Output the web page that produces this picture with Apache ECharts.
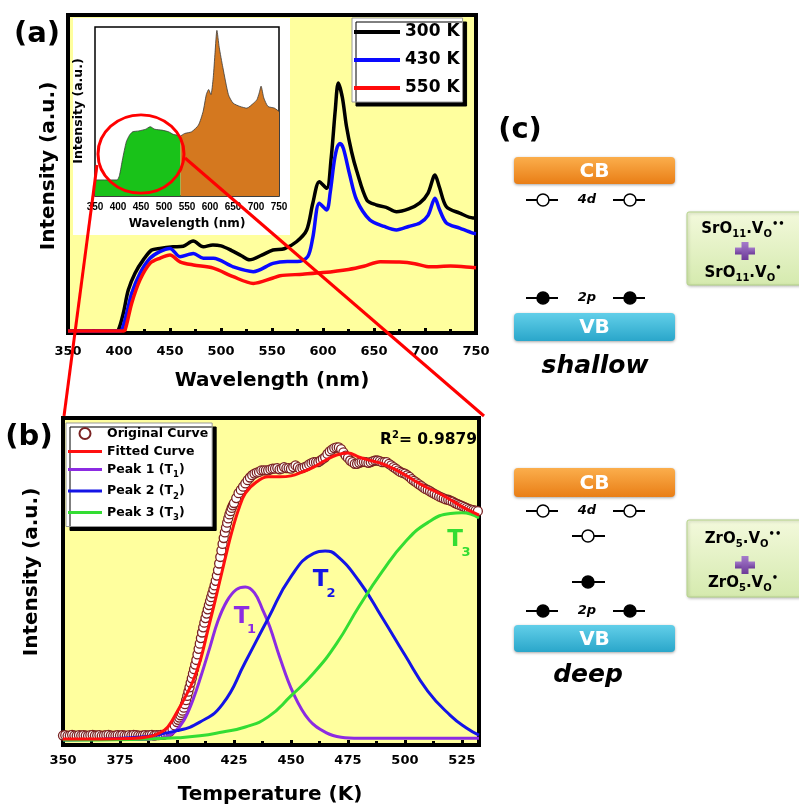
<!DOCTYPE html>
<html><head><meta charset="utf-8">
<script src="https://cdn.jsdelivr.net/npm/echarts@6/dist/echarts.min.js"></script>
<style>html,body{margin:0;padding:0;background:#fff}#c{width:799px;height:807px}</style>
</head><body><div id="c"></div>
<script>
// ---------- Panel (a): PL spectra ----------
const wl300 = [350,375,396,399.3,404.2,409.1,415.7,423.8,432,440,453,463,472.7,482.6,492,500,510,520,528,540,551,562,574,584,590,596.4,603.6,608,612,615,619,623,628,633,643,652,662,672,684,695,703,709.8,714,721,734,747,750];
const int300 = [0.6,0.6,0.6,0.9,6.2,13.5,18.8,23,26.1,26.6,27.1,27.3,28.9,27.1,27.7,27.4,26,24.3,23,24.5,26.1,26.5,28.7,32.4,40.8,47.6,45.5,55,70,78.6,74,65,57,51,41.8,40.3,39.5,38.1,39,40.9,44,49.7,46,39.7,37.7,36.2,36.2];
const wl430 = [350,399,402.6,407.5,412.4,420.6,430.4,440,450,459.8,472.9,482.7,492.5,512,531.7,551,565,575,585,590,596.4,603.6,607,611,614,616.7,620,626,633,646,660,672,684,695,703,709.8,714,721,734,747,750];
const int430 = [0.6,0.6,0.9,6.2,12.5,18.8,23.5,25.6,26.6,24,25,23.5,23.5,20.8,19.3,21.9,22.5,22.5,24,30,40.8,38.7,44,54,58.5,59.6,58,50,41.8,35.5,33.5,32.4,33.5,34.6,37,42.4,39,34.6,33,31.4,31.2];
const wl550 = [350,403,405.9,412.4,420.6,430.4,440,450,459.8,472.9,492.5,512,531.7,551,557.8,580,600,625,640,656,675,690,705,725,747,750];
const int550 = [0.6,0.6,0.9,9.3,16.7,21.9,23.5,24.5,22.4,21.4,20.4,17.7,15.6,17.3,18.0,18.5,19,20,21,22.4,22.3,21.8,20.8,21.1,20.6,20.5];
// inset
const wlInsetGreen = [350,398,403,410,418,425,432,445,460,470,480,495,510,520,530,536];
const insetGreen = [9.5,9.5,12,22,32,36,38,38.5,39.5,41,39.5,39,38,36.5,36,35.5];
const wlInsetOrange = [536,545,560,575,585,592,597,602,607,611,615,620,628,640,650,665,680,695,702,707,711,717,726,740,750];
const insetOrange = [35.5,37,38,42,50,60,63,60,70,85,98,88,76,60,55,53,52,55,57,61,65,58,53,52,50];
const wlTicks = [350,400,450,500,550,600,650,700,750];

// ---------- Panel (b): TL fit ----------
const origK = [350,351,352,353,354,355,356,357,358,359,
360,361,362,363,364,365,366,367,368,369,
370,371,372,373,374,375,376,377,378,379,
380,381,382,383,384,385,386,387,388,389,
390,391,392,393,394,395,396,397,398,399,
400,400.5,401,401.5,402,402.5,403,403.5,404,404.5,
405,405.5,406,406.5,407,407.5,408,408.5,409,409.5,
410,410.5,411,411.5,412,412.5,413,413.5,414,414.5,
415,415.5,416,416.5,417,417.5,418,418.5,419,419.5,
420,420.5,421,421.5,422,422.5,423,423.5,424,424.5,
425,426,427,428,429,430,431,432,433,434,
435,436,437,438,439,440,441,442,443,444,
445,446,447,448,449,450,451,452,453,454,
455,456,457,458,459,460,461,462,463,464,
465,466,467,468,469,470,471,472,473,474,
475,476,477,478,479,480,481,482,483,484,
485,486,487,488,489,490,491,492,493,494,
495,496,497,498,499,500,501,502,503,504,
505,506,507,508,509,510,511,512,513,514,
515,516,517,518,519,520,521,522,523,524,
525,526,527,528,529,530,531,532];
const origV = [2.9,3.0,2.8,2.9,3.1,2.9,2.8,3.0,2.9,3.0,
2.9,2.8,3.0,3.1,2.9,2.9,3.0,2.8,2.9,3.0,
3.1,2.9,2.8,2.9,3.0,2.9,3.0,2.9,2.8,3.0,
2.9,3.1,3.0,2.9,2.8,2.9,3.0,2.9,3.0,3.1,
2.9,3.0,3.0,3.1,3.1,3.3,3.7,4.2,5.0,6.0,
7.0,7.7,8.4,9.1,9.8,10.5,11.4,12.5,13.7,15,
16.3,17.6,19,20.4,21.8,23.2,24.6,26,27.7,29.4,
31,32.7,34.4,36,37.4,38.8,40.2,41.5,42.8,44,
45.2,46.4,47.6,48.8,50.2,51.8,53.5,55.5,57.5,59.5,
61.5,63.3,65,66.5,68,69.3,70.5,71.5,72.5,73.3,
74,75.5,77,78,79,80,81,81.8,82.5,83,
83.3,83.5,84,84,84,84,84.3,84.5,84.5,84.7,
84.3,84.5,85,84.7,84.7,84.5,85,85.5,85,84.5,
84.7,85,85.3,85.8,86.2,86.5,86.5,86.5,87,87.5,
88,89,89.8,90.3,90.8,91,91,90.5,89.5,88.5,
87.8,87,86.5,86,86,86.3,86.5,86.6,86.5,86.3,
86.5,86.8,87,87,86.8,86.5,86.5,86.5,86,85.5,
85,84.5,84,83.5,83.2,83,82.5,82,81.3,80.8,
80.3,79.8,79.3,78.8,78.3,78,77.6,77.2,76.8,76.4,
76,75.7,75.4,75.1,75,74.7,74.4,74,73.7,73.4,
73.1,72.8,72.5,72.2,72,71.8,71.7,71.5];
const fitK = [350,380,388,392.5,396,400.5,403.5,407,410.3,413.5,416.7,421,424,427,430,435,440,445,450,455,460,465,470,475,480,485,490,495,500,505,510,515,520,526,532.5];
const fitV = [1.8,2.0,2.6,3.7,5.5,10.7,14.5,19.5,26,35,44,56.6,65,72,77,80.5,82,82,82.3,83.5,85,87,88.7,89.3,88,87,86,84.5,82.6,80.5,78.6,77,75,72.5,70.3];
const p1K = [350,380,390,395,399,403,407,410.5,414.5,418,421.9,426,430,434,437.5,440.8,445,451,458,465.6,472,480,532.5];
const p1V = [1.7,1.7,1.9,2.5,4,7.5,13.8,21,30,38,44,47.5,48.3,46.5,41.5,36,27,15.9,7.6,3.7,2.4,2.1,2.1];
const p2K = [350,380,400,410,420,430,440,450,460,465,470,480,490,500,510,520,527,532.5];
const p2V = [1.5,2.2,4.4,7,12.5,25.4,38.7,51.5,58.6,59.3,58,50,39,27.5,16.5,9,5.2,3];
const p3K = [350,380,400,410,420,430,440,450,460,470,480,490,500,510,520,525,532.5];
const p3V = [1.5,1.7,2.2,2.8,4,5.5,8.6,15,22,31,42.5,53,62,68,70.8,71,69.4];
const tempTicks = [350,375,400,425,450,475,500,525];

const zip = (a, b) => a.map((v, i) => [v, b[i]]);
const FONT = '"DejaVu Sans", sans-serif';
const YEL = '#ffff9e';
const PURPLE = '#8c2be2', BLUE2 = '#1414e6', GREEN = '#33dd33';

function txt(x, y, text, size, o) {
  o = o || {};
  const st = {text: text, fill: o.color || '#000',
    font: (o.italic ? 'italic ' : '') + 'bold ' + size + 'px ' + (o.family || FONT),
    align: o.align || 'center', verticalAlign: 'middle'};
  if (o.rich) st.rich = o.rich;
  return {type: 'text', x: x, y: y, rotation: o.rotation || 0, z: o.z || 60, style: st};
}
function grad(c1, c2) { return new echarts.graphic.LinearGradient(0, 0, 0, 1, [{offset: 0, color: c1}, {offset: 1, color: c2}]); }
function bar(y, h, label, c1, c2) {
  return [{type: 'rect', z: 40, shape: {x: 514, y: y, width: 161, height: h, r: 4},
    style: {fill: grad(c1, c2), shadowBlur: 3, shadowOffsetY: 1, shadowColor: 'rgba(0,0,0,0.35)'}},
    txt(594.5, y + h / 2 + 1, label, 20, {color: '#fff'})];
}
function lvl(y, x, filled, l, r) {
  return [{type: 'line', z: 40, shape: {x1: x - (l || 17), y1: y, x2: x + (r || 15), y2: y}, style: {stroke: '#000', lineWidth: 2}},
    {type: 'circle', z: 41, shape: {cx: x, cy: y, r: 6}, style: {fill: filled ? '#000' : '#fff', stroke: '#000', lineWidth: 1.5}}];
}
function gbox(y, h) {
  return {type: 'rect', z: 40, shape: {x: 687, y: y, width: 120, height: h, r: 2},
    style: {fill: grad('#f3f9dc', '#d5eaae'), stroke: '#b5d38a', lineWidth: 1, shadowBlur: 3, shadowOffsetX: 1, shadowOffsetY: 1, shadowColor: 'rgba(0,0,0,0.25)'}};
}
function plus(cx, cy) {
  const f = grad('#a57bcb', '#6c3a98');
  return [{type: 'rect', z: 42, shape: {x: cx - 10, y: cy - 3.5, width: 20, height: 7}, style: {fill: f}},
    {type: 'rect', z: 42, shape: {x: cx - 3.5, y: cy - 9, width: 7, height: 18}, style: {fill: f}}];
}
const formRich = {
  m: {fontSize: 15, fontWeight: 'bold', fontFamily: FONT, color: '#000', lineHeight: 20},
  s: {fontSize: 10, fontWeight: 'bold', fontFamily: FONT, color: '#000', lineHeight: 10, verticalAlign: 'bottom'},
  p: {fontSize: 10, fontWeight: 'bold', fontFamily: FONT, color: '#000', lineHeight: 10, verticalAlign: 'top'}
};

const graphics = [].concat(
  [{type: 'rect', z: 1, shape: {x: 73, y: 18, width: 217, height: 217}, style: {fill: '#fff'}}],
  [txt(37, 34, '(a)', 29), txt(29, 437, '(b)', 29), txt(520, 130, '(c)', 29)],
  [txt(272, 381, 'Wavelength (nm)', 20), txt(49, 166, 'Intensity (a.u.)', 20, {rotation: Math.PI / 2})],
  [txt(187, 224, 'Wavelength (nm)', 12, {z: 61}), txt(79, 111, 'Intensity (a.u.)', 12.5, {rotation: Math.PI / 2, z: 61})],
  [txt(270, 795, 'Temperature (K)', 20), txt(32, 572, 'Intensity (a.u.)', 20, {rotation: Math.PI / 2})],
  [txt(380, 440, '{a|R}{s|2}{a|= 0.9879}', 15.5, {align: 'left', rich: {
      a: {fontSize: 15.5, fontWeight: 'bold', fontFamily: FONT, color: '#000', lineHeight: 20},
      s: {fontSize: 10, fontWeight: 'bold', fontFamily: FONT, color: '#000', lineHeight: 10, verticalAlign: 'top'}}})],
  [txt(241.5, 617, 'T', 23, {color: PURPLE}), txt(251.5, 630, '1', 13, {color: PURPLE}),
   txt(320.5, 580, 'T', 23, {color: BLUE2}), txt(331, 594, '2', 13, {color: BLUE2}),
   txt(455, 540, 'T', 23, {color: GREEN}), txt(466, 553, '3', 13, {color: GREEN})],
  // zoom circle and connectors
  [{type: 'circle', z: 100, x: 0, y: 0, originX: 141, originY: 154, scaleY: 0.91,
     shape: {cx: 141, cy: 154, r: 43}, style: {fill: 'none', stroke: '#ff0000', lineWidth: 3, strokeNoScale: true}},
   {type: 'line', z: 100, shape: {x1: 97, y1: 165, x2: 64, y2: 416}, style: {stroke: '#ff0000', lineWidth: 3}},
   {type: 'line', z: 100, shape: {x1: 185, y1: 158, x2: 484, y2: 416}, style: {stroke: '#ff0000', lineWidth: 3}}],
  // panel (c) shallow
  bar(157, 27, 'CB', '#fbae4c', '#e97e16'),
  lvl(200, 543, false), [txt(587, 200, '4d', 13, {italic: true})], lvl(200, 630, false),
  lvl(298, 543, true), [txt(587, 298, '2p', 13, {italic: true})], lvl(298, 630, true),
  bar(313, 28, 'VB', '#62cfe9', '#2aa6ca'),
  [txt(595, 366, 'shallow', 25, {italic: true})],
  [gbox(212, 73)], plus(745, 251),
  [txt(743, 229, '{m|SrO}{s|11}{m|.V}{s|O}{p|••}', 15, {rich: formRich, z: 43}),
   txt(743, 273, '{m|SrO}{s|11}{m|.V}{s|O}{p|•}', 15, {rich: formRich, z: 43})],
  // panel (c) deep
  bar(468, 29, 'CB', '#fbae4c', '#e97e16'),
  lvl(511, 543, false), [txt(587, 511, '4d', 13, {italic: true})], lvl(511, 630, false),
  lvl(536, 588, false, 16, 17), lvl(582, 588, true, 16, 17),
  lvl(611, 543, true), [txt(587, 611, '2p', 13, {italic: true})], lvl(611, 630, true),
  bar(625, 27, 'VB', '#62cfe9', '#2aa6ca'),
  [txt(588, 675, 'deep', 25, {italic: true})],
  [gbox(520, 77)], plus(745, 565),
  [txt(743, 539, '{m|ZrO}{s|5}{m|.V}{s|O}{p|••}', 15, {rich: formRich, z: 43}),
   txt(743, 583, '{m|ZrO}{s|5}{m|.V}{s|O}{p|•}', 15, {rich: formRich, z: 43})]
);

const tickLbl = {fontSize: 13, fontWeight: 'bold', fontFamily: FONT, color: '#000'};
const legRich = {
  n: {fontSize: 12.5, fontWeight: 'bold', fontFamily: FONT, color: '#000', lineHeight: 15},
  a: {fontSize: 12.5, fontWeight: 'bold', fontFamily: FONT, color: '#000', lineHeight: 20},
  s: {fontSize: 8.5, fontWeight: 'bold', fontFamily: FONT, color: '#000', lineHeight: 9, verticalAlign: 'bottom'}
};
const iconA = 'path://M0,0H46V4H0Z';
const iconB = 'path://M0,0H34V3H0Z';

const option = {
  animation: false,
  backgroundColor: '#fff',
  grid: [
    {left: 68, top: 15, width: 408, height: 318, show: true, backgroundColor: YEL, borderColor: '#000', borderWidth: 4, containLabel: false, outerBoundsMode: 'none', z: 0},
    {left: 95, top: 27, width: 184, height: 169, show: true, backgroundColor: '#fff', borderColor: '#000', borderWidth: 1.5, containLabel: false, outerBoundsMode: 'none', z: 2},
    {left: 63, top: 418, width: 416, height: 327, show: true, backgroundColor: YEL, borderColor: '#000', borderWidth: 4, containLabel: false, outerBoundsMode: 'none', z: 0}
  ],
  xAxis: [
    {type: 'value', gridIndex: 0, min: wlTicks[0], max: wlTicks[wlTicks.length - 1], interval: 50,
     axisLine: {show: false}, splitLine: {show: false},
     axisTick: {inside: true, length: 5, lineStyle: {width: 3, color: '#000'}},
     minorTick: {show: true, splitNumber: 2, length: 4, lineStyle: {width: 3, color: '#000'}},
     axisLabel: Object.assign({margin: 12}, tickLbl)},
    {type: 'value', gridIndex: 1, min: wlTicks[0], max: wlTicks[wlTicks.length - 1], interval: 50, z: 3,
     axisLine: {show: false}, splitLine: {show: false}, axisTick: {show: false},
     axisLabel: {margin: 6, fontSize: 10, fontWeight: 'bold', fontFamily: '"Liberation Sans", Arial, sans-serif', color: '#000'}},
    {type: 'value', gridIndex: 2, min: tempTicks[0], max: 532.5, interval: 25,
     axisLine: {show: false}, splitLine: {show: false},
     axisTick: {inside: true, length: 5, lineStyle: {width: 3, color: '#000'}},
     minorTick: {show: true, splitNumber: 2, length: 4, lineStyle: {width: 3, color: '#000'}},
     axisLabel: Object.assign({margin: 9, showMaxLabel: false, formatter: v => (tempTicks.indexOf(v) >= 0 ? String(v) : '')}, tickLbl)}
  ],
  yAxis: [
    {type: 'value', gridIndex: 0, min: 0, max: 100, show: false},
    {type: 'value', gridIndex: 1, min: 0, max: 100, show: false},
    {type: 'value', gridIndex: 2, min: 0, max: 100, show: false}
  ],
  legend: [
    {data: [{name: '300 K', icon: iconA}, {name: '430 K', icon: iconA}, {name: '550 K', icon: iconA}],
     orient: 'vertical', left: 352, top: 18, itemWidth: 46, itemHeight: 12, itemGap: 6,
     padding: [3, 3, 3, 2], backgroundColor: '#fff', borderColor: '#999', borderWidth: 1,
     shadowColor: '#000', shadowOffsetX: 4, shadowOffsetY: 4, shadowBlur: 0, selectedMode: false,
     textStyle: {fontSize: 17, fontWeight: 'bold', fontFamily: FONT, color: '#000', lineHeight: 22}},
    {data: [{name: 'Original Curve'}, {name: 'Fitted Curve', icon: iconB}, {name: 'Peak 1 (T1)', icon: iconB},
            {name: 'Peak 2 (T2)', icon: iconB}, {name: 'Peak 3 (T3)', icon: iconB}],
     orient: 'vertical', left: 66, top: 423,
     itemWidth: 34, itemHeight: 11, itemGap: 5, padding: [4, 4, 4, 2], backgroundColor: '#fff', borderColor: '#999', borderWidth: 1,
     shadowColor: '#000', shadowOffsetX: 4, shadowOffsetY: 4, shadowBlur: 0, selectedMode: false,
     formatter: function (name) {
       const m = name.match(/^(Peak \d \(T)(\d)\)$/);
       if (m) return '{a|' + m[1] + '}{s|' + m[2] + '}{a|)}';
       return '{n|' + name + '}';
     },
     textStyle: {rich: legRich}}
  ],
  series: [
    {name: '300 K', type: 'line', xAxisIndex: 0, yAxisIndex: 0, data: zip(wl300, int300), symbol: 'none', smooth: 0.3, lineStyle: {color: '#000', width: 3.5}, itemStyle: {color: '#000'}, z: 4},
    {name: '430 K', type: 'line', xAxisIndex: 0, yAxisIndex: 0, data: zip(wl430, int430), symbol: 'none', smooth: 0.3, lineStyle: {color: '#0a0aff', width: 3.5}, itemStyle: {color: '#0a0aff'}, z: 4},
    {name: '550 K', type: 'line', xAxisIndex: 0, yAxisIndex: 0, data: zip(wl550, int550), symbol: 'none', smooth: 0.3, lineStyle: {color: '#ff0a0a', width: 3.5}, itemStyle: {color: '#ff0a0a'}, z: 4},
    {name: 'insetG', type: 'line', xAxisIndex: 1, yAxisIndex: 1, data: zip(wlInsetGreen, insetGreen), symbol: 'none', smooth: 0.2,
     lineStyle: {color: '#3a3a3a', width: 0.8}, areaStyle: {color: '#19c219', opacity: 1}, z: 5},
    {name: 'insetO', type: 'line', xAxisIndex: 1, yAxisIndex: 1, data: zip(wlInsetOrange, insetOrange), symbol: 'none', smooth: 0.2,
     lineStyle: {color: '#3a3a3a', width: 0.8}, areaStyle: {color: '#d4781f', opacity: 1}, z: 5},
    {name: 'Original Curve', type: 'scatter', xAxisIndex: 2, yAxisIndex: 2, data: zip(origK, origV), symbol: 'circle', symbolSize: 9,
     itemStyle: {color: '#fff', borderColor: '#7a2222', borderWidth: 1.3, opacity: 1}, z: 3},
    {name: 'Fitted Curve', type: 'line', xAxisIndex: 2, yAxisIndex: 2, data: zip(fitK, fitV), symbol: 'none', smooth: 0.4, lineStyle: {color: '#ff1010', width: 3}, itemStyle: {color: '#ff1010'}, z: 5},
    {name: 'Peak 1 (T1)', type: 'line', xAxisIndex: 2, yAxisIndex: 2, data: zip(p1K, p1V), symbol: 'none', smooth: 0.4, lineStyle: {color: PURPLE, width: 3}, itemStyle: {color: PURPLE}, z: 4},
    {name: 'Peak 2 (T2)', type: 'line', xAxisIndex: 2, yAxisIndex: 2, data: zip(p2K, p2V), symbol: 'none', smooth: 0.5, lineStyle: {color: BLUE2, width: 3}, itemStyle: {color: BLUE2}, z: 4},
    {name: 'Peak 3 (T3)', type: 'line', xAxisIndex: 2, yAxisIndex: 2, data: zip(p3K, p3V), symbol: 'none', smooth: 0.5, lineStyle: {color: GREEN, width: 3}, itemStyle: {color: GREEN}, z: 4}
  ],
  graphic: {elements: graphics}
};
const chart = echarts.init(document.getElementById('c'), null, {renderer: 'canvas'});
chart.setOption(option);
</script></body></html>
